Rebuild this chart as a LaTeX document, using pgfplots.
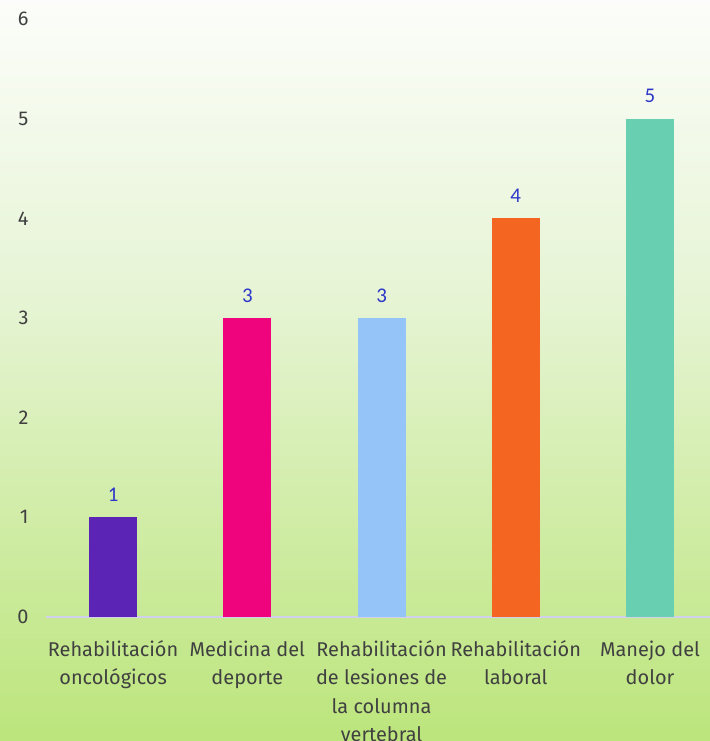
\documentclass[border=0pt]{standalone}
\usepackage{pgfplots}
\pgfplotsset{compat=1.18}
\usepackage{fontspec}
\setmainfont{Fira Sans}
\newfontfamily\valfont{Carlito}
\definecolor{bgtop}{RGB}{252,253,250}
\definecolor{bgmid}{RGB}{230,244,212}
\definecolor{bglow}{RGB}{210,237,170}
\definecolor{bgbot}{RGB}{188,229,124}
\definecolor{txt}{RGB}{64,64,64}
\definecolor{vallab}{RGB}{46,56,200}
\definecolor{base}{RGB}{208,208,236}
\definecolor{cpurple}{RGB}{92,36,180}
\definecolor{cmagenta}{RGB}{240,4,126}
\definecolor{cblue}{RGB}{148,196,248}
\definecolor{corange}{RGB}{244,101,34}
\definecolor{cteal}{RGB}{104,208,176}

\begin{document}
\begin{tikzpicture}[x=1bp,y=1bp]
% background, drawn in pixel-like units (origin bottom left)
\shade[top color=bgtop, bottom color=bgmid, draw=none] (0,441) rectangle (710,741);
\shade[top color=bgmid, bottom color=bglow, draw=none] (0,241) rectangle (710,441.5);
\shade[top color=bglow, bottom color=bgbot, draw=none] (0,0) rectangle (710,241.5);
\useasboundingbox (0,0) rectangle (710,741);
\begin{axis}[
  at={(46bp,124bp)}, anchor=south west,
  scale only axis, width=664bp, height=598bp,
  xmin=-0.5, xmax=4.447, ymin=0, ymax=6,
  axis line style={draw=none},
  major tick length=0pt,
  ytick={0,1,2,3,4,5,6},
  xtick={0,1,2,3,4},
  xticklabels={{Rehabilitación\\oncológicos},{Medicina del\\deporte},{Rehabilitación\\de lesiones de\\la columna\\vertebral},{Rehabilitación\\laboral},{Manejo del\\dolor}},
  /pgf/number format/assume math mode=true,
  ticklabel style={font=\fontsize{20}{28.5}\selectfont, text=txt},
  yticklabel style={xshift=-14bp},
  xticklabel style={align=center, yshift=-20bp},
  ybar, bar width=48bp, bar shift=0pt,
  nodes near coords,
  every node near coord/.append style={font=\valfont\fontsize{21}{21}\selectfont, text=vallab, yshift=12bp},
  clip=false,
]
\draw[base, line width=2bp] (rel axis cs:0,0) -- (rel axis cs:1,0);
\addplot[fill=cpurple, draw=none] coordinates {(0,1)};
\addplot[fill=cmagenta, draw=none] coordinates {(1,3)};
\addplot[fill=cblue, draw=none] coordinates {(2,3)};
\addplot[fill=corange, draw=none] coordinates {(3,4)};
\addplot[fill=cteal, draw=none] coordinates {(4,5)};
\end{axis}
\end{tikzpicture}
\end{document}
